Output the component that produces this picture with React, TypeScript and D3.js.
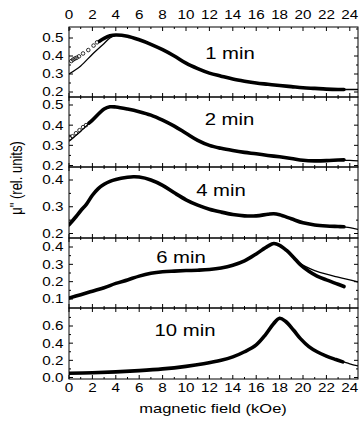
import React, { useEffect, useRef } from 'react';
import * as d3 from 'd3';

type Pt = [number, number];

// field values in kOe, mu'' in rel. units
const labels1 = ['1 min', '2 min', '4 min', '6 min', '10 min'];

const fit1: Pt[] = [[0, 0.3], [1, 0.345], [2, 0.41], [3, 0.47], [3.5, 0.5], [4, 0.515], [5, 0.51], [6, 0.49], [7, 0.465], [8, 0.435], [9, 0.4], [10, 0.36], [11, 0.33], [12, 0.305], [13, 0.288], [14, 0.272], [15, 0.26], [16, 0.25], [17, 0.243], [18, 0.236], [19, 0.23], [20, 0.224], [21, 0.22], [22, 0.216], [23, 0.214], [24, 0.214], [24.7, 0.214]];
const data1: Pt[] = [[2.6, 0.482], [3, 0.498], [3.5, 0.512], [4, 0.517], [5, 0.51], [6, 0.49], [7, 0.465], [8, 0.435], [9, 0.4], [10, 0.36], [11, 0.33], [12, 0.305], [13, 0.288], [14, 0.272], [15, 0.26], [16, 0.25], [17, 0.243], [18, 0.236], [19, 0.23], [20, 0.224], [21, 0.22], [22, 0.216], [23, 0.214], [23.5, 0.214]];
const dots1: Pt[] = [[0.2, 0.372], [0.35, 0.38], [0.5, 0.386], [0.65, 0.39], [0.85, 0.398], [1.2, 0.414], [1.65, 0.433], [2.1, 0.458], [2.4, 0.476]];

const fit2: Pt[] = [[0, 0.32], [1, 0.37], [2, 0.425], [3, 0.48], [3.5, 0.49], [4, 0.49], [5, 0.48], [6, 0.467], [7, 0.45], [8, 0.425], [9, 0.395], [10, 0.36], [11, 0.325], [12, 0.3], [13, 0.285], [14, 0.274], [15, 0.265], [16, 0.258], [17, 0.25], [18, 0.243], [19, 0.235], [20, 0.226], [21, 0.223], [22, 0.223], [23, 0.225], [24, 0.225], [24.7, 0.223]];
const data2: Pt[] = [[1.7, 0.41], [2, 0.425], [3, 0.48], [3.5, 0.491], [4, 0.49], [5, 0.48], [6, 0.467], [7, 0.45], [8, 0.425], [9, 0.395], [10, 0.36], [11, 0.325], [12, 0.3], [13, 0.285], [14, 0.274], [15, 0.265], [16, 0.258], [17, 0.25], [18, 0.243], [19, 0.235], [20, 0.226], [21, 0.223], [22, 0.224], [23, 0.227], [23.5, 0.228]];
const dots2: Pt[] = [[0.1, 0.335], [0.3, 0.345], [0.6, 0.36], [0.9, 0.375], [1.2, 0.39], [1.45, 0.4]];

const fit3: Pt[] = [[0, 0.232], [0.5, 0.258], [1, 0.285], [1.5, 0.31], [2, 0.343], [2.5, 0.368], [3, 0.384], [3.5, 0.395], [4, 0.402], [5, 0.41], [5.5, 0.412], [6, 0.411], [7, 0.4], [8, 0.38], [9, 0.352], [10, 0.326], [11, 0.306], [12, 0.291], [13, 0.28], [14, 0.271], [15, 0.266], [16, 0.266], [17, 0.272], [17.5, 0.274], [18, 0.27], [19, 0.255], [20, 0.24], [21, 0.232], [22, 0.228], [23, 0.226], [24, 0.222], [24.7, 0.215]];
const data3: Pt[] = [[0, 0.232], [0.5, 0.258], [1, 0.285], [1.5, 0.31], [2, 0.343], [2.5, 0.368], [3, 0.384], [3.5, 0.395], [4, 0.402], [5, 0.41], [5.5, 0.412], [6, 0.411], [7, 0.4], [8, 0.38], [9, 0.352], [10, 0.326], [11, 0.306], [12, 0.291], [13, 0.28], [14, 0.271], [15, 0.266], [16, 0.266], [17, 0.272], [17.5, 0.274], [18, 0.27], [19, 0.255], [20, 0.24], [21, 0.232], [22, 0.228], [23, 0.226], [23.5, 0.225]];

const fit4: Pt[] = [[0, 0.105], [1, 0.125], [2, 0.145], [3, 0.165], [4, 0.19], [5, 0.21], [6, 0.232], [7, 0.248], [8, 0.257], [9, 0.261], [10, 0.264], [11, 0.266], [12, 0.27], [13, 0.279], [14, 0.295], [15, 0.32], [16, 0.36], [17, 0.405], [17.5, 0.42], [18, 0.41], [18.6, 0.38], [19.2, 0.34], [19.75, 0.305], [20.5, 0.278], [21, 0.264], [22, 0.243], [23, 0.226], [24, 0.21], [24.7, 0.198]];
const data4: Pt[] = [[0, 0.105], [1, 0.125], [2, 0.145], [3, 0.165], [4, 0.19], [5, 0.21], [6, 0.232], [7, 0.248], [8, 0.257], [9, 0.261], [10, 0.264], [11, 0.266], [12, 0.27], [13, 0.279], [14, 0.295], [15, 0.32], [16, 0.36], [17, 0.405], [17.5, 0.42], [18, 0.41], [18.6, 0.38], [19.2, 0.34], [19.75, 0.3], [20.5, 0.26], [21.2, 0.232], [22, 0.21], [23, 0.185], [23.5, 0.172]];

const fit5: Pt[] = [[0, 0.05], [2, 0.055], [4, 0.065], [6, 0.08], [8, 0.1], [10, 0.13], [11.5, 0.16], [13, 0.2], [14, 0.24], [15, 0.3], [16, 0.38], [16.8, 0.5], [17.5, 0.63], [18, 0.69], [18.5, 0.655], [19.2, 0.55], [19.8, 0.45], [20.5, 0.36], [21.2, 0.3], [22, 0.25], [22.8, 0.21], [23.4, 0.185], [24, 0.16], [24.7, 0.135]];
const data5: Pt[] = [[0, 0.05], [2, 0.055], [4, 0.065], [6, 0.08], [8, 0.1], [10, 0.13], [11.5, 0.16], [13, 0.2], [14, 0.24], [15, 0.3], [16, 0.38], [16.8, 0.5], [17.5, 0.63], [18, 0.69], [18.5, 0.655], [19.2, 0.55], [19.8, 0.45], [20.5, 0.36], [21.2, 0.3], [22, 0.25], [22.8, 0.21], [23.4, 0.182]];

const xTicks = [0, 2, 4, 6, 8, 10, 12, 14, 16, 18, 20, 22, 24];
const yTicks1 = [0.2, 0.3, 0.4, 0.5];
const yTicks2 = [0.2, 0.3, 0.4, 0.5];
const yTicks3 = [0.2, 0.3, 0.4];
const yTicks4 = [0.1, 0.2, 0.3, 0.4];
const yTicks5 = [0.0, 0.2, 0.4, 0.6];

const App = () => {
  const svgRef = useRef<SVGSVGElement>(null);

  useEffect(() => {
    const svg = d3.select(svgRef.current);
    svg.selectAll('*').remove();

    const font = 'Liberation Sans, Arial, sans-serif';
    const sx = 1.27; // the original figure is stretched horizontally
    const x = d3.scaleLinear().domain([0, 24.7]).range([69, 358]);

    // panel layout: frame top/bottom and y scale anchors
    const panels = [
      { top: 27, bottom: 97, dom: [0.2, 0.5], rng: [92, 38], ticks: yTicks1, step: 0.05, fit: fit1, data: data1, dots: dots1, lx: 230, ly: 53.5 },
      { top: 97, bottom: 167, dom: [0.2, 0.5], rng: [165.5, 105], ticks: yTicks2, step: 0.05, fit: fit2, data: data2, dots: dots2, lx: 229.5, ly: 119 },
      { top: 167, bottom: 238, dom: [0.2, 0.4], rng: [233.5, 180], ticks: yTicks3, step: 0.05, fit: fit3, data: data3, dots: [], lx: 221, ly: 190 },
      { top: 238, bottom: 308, dom: [0.1, 0.4], rng: [299, 247], ticks: yTicks4, step: 0.05, fit: fit4, data: data4, dots: [], lx: 181, ly: 257 },
      { top: 308, bottom: 379, dom: [0.0, 0.6], rng: [377.5, 326], ticks: yTicks5, step: 0.1, fit: fit5, data: data5, dots: [], lx: 185, ly: 330 },
    ];

    const defs = svg.append('defs');
    const minorX = d3.range(0, 25, 1);

    panels.forEach((p, i) => {
      const y = d3.scaleLinear().domain(p.dom).range(p.rng);
      const g = svg.append('g');

      defs.append('clipPath').attr('id', `clip${i}`)
        .append('rect')
        .attr('x', x(0)).attr('y', p.top)
        .attr('width', x(24.7) - x(0)).attr('height', p.bottom - p.top);

      const line = d3.line<Pt>()
        .x(d => x(d[0]))
        .y(d => y(d[1]))
        .curve(d3.curveCatmullRom.alpha(0.5));

      const plot = g.append('g').attr('clip-path', `url(#clip${i})`);

      // measured data (dense open circles -> thick trace)
      plot.append('path')
        .attr('d', line(p.data))
        .attr('fill', 'none')
        .attr('stroke', '#000')
        .attr('stroke-width', 3.6)
        .attr('stroke-linecap', 'round');

      plot.selectAll('circle')
        .data(p.dots)
        .enter()
        .append('circle')
        .attr('cx', d => x(d[0]))
        .attr('cy', d => y(d[1]))
        .attr('r', 1.8)
        .attr('fill', 'none')
        .attr('stroke', '#000')
        .attr('stroke-width', 0.8);

      // fit
      plot.append('path')
        .attr('d', line(p.fit))
        .attr('fill', 'none')
        .attr('stroke', '#000')
        .attr('stroke-width', 1.3);

      // frame
      g.append('rect')
        .attr('x', x(0)).attr('y', p.top)
        .attr('width', x(24.7) - x(0)).attr('height', p.bottom - p.top)
        .attr('fill', 'none')
        .attr('stroke', '#000')
        .attr('stroke-width', 1);

      // x ticks top & bottom, pointing in
      minorX.forEach(v => {
        const len = v % 2 === 0 ? 4 : 2;
        g.append('line').attr('x1', x(v)).attr('x2', x(v))
          .attr('y1', p.top).attr('y2', p.top + len)
          .attr('stroke', '#000');
        g.append('line').attr('x1', x(v)).attr('x2', x(v))
          .attr('y1', p.bottom).attr('y2', p.bottom - len)
          .attr('stroke', '#000');
      });

      // y ticks left & right
      const [y0, y1] = y.domain();
      const yMinor = d3.range(y0, y1 + 0.15, p.step).filter(v => y(v) > p.top + 1 && y(v) < p.bottom - 1);
      yMinor.forEach(v => {
        const major = p.ticks.some(t => Math.abs(t - v) < 1e-6);
        const len = major ? 4 : 2;
        g.append('line').attr('x1', x(0)).attr('x2', x(0) + len)
          .attr('y1', y(v)).attr('y2', y(v)).attr('stroke', '#000');
        g.append('line').attr('x1', x(24.7)).attr('x2', x(24.7) - len)
          .attr('y1', y(v)).attr('y2', y(v)).attr('stroke', '#000');
      });

      g.selectAll('.ylab')
        .data(p.ticks)
        .enter()
        .append('text')
        .attr('transform', d => `translate(63.5,${y(d)}) scale(${sx},1)`)
        .attr('dy', '0.36em')
        .attr('text-anchor', 'end')
        .style('font-family', font)
        .style('font-size', '12px')
        .text(d => d.toFixed(1));

      g.append('text')
        .attr('transform', `translate(${p.lx},${p.ly}) scale(${sx},1)`)
        .attr('dy', '0.36em')
        .attr('text-anchor', 'middle')
        .style('font-family', font)
        .style('font-size', '16px')
        .text(labels1[i]);
    });

    // top and bottom x labels
    [15, 388].forEach(ty => {
      svg.append('g').selectAll('text')
        .data(xTicks)
        .enter()
        .append('text')
        .attr('transform', d => `translate(${x(d)},${ty}) scale(${sx},1)`)
        .attr('dy', '0.36em')
        .attr('text-anchor', 'middle')
        .style('font-family', font)
        .style('font-size', '12px')
        .text(d => d);
    });

    svg.append('text')
      .attr('transform', `translate(213,408) scale(${sx},1)`)
      .attr('dy', '0.36em')
      .attr('text-anchor', 'middle')
      .style('font-family', font)
      .style('font-size', '13px')
      .text('magnetic field (kOe)');

    svg.append('text')
      .attr('transform', 'translate(16,178) rotate(-90) scale(1,1.2)')
      .attr('dy', '0.36em')
      .attr('text-anchor', 'middle')
      .style('font-family', font)
      .style('font-size', '13px')
      .text('\u03bc" (rel. units)');
  }, []);

  return (
    <svg
      ref={svgRef}
      width={360}
      height={421}
      style={{ position: 'absolute', left: 0, top: 0, background: '#fff' }}
    />
  );
};

export default App;
